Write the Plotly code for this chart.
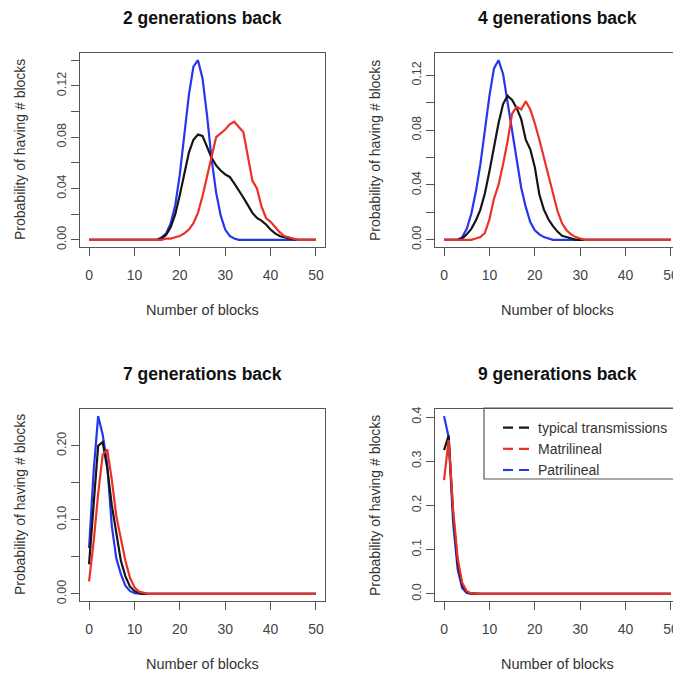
import plotly.graph_objects as go

# ---------------- data ----------------
BLOCKS = list(range(0, 51))

# 2 generations back
G2_TYPICAL = [0]*16 + [0.001, 0.004, 0.010, 0.020, 0.035, 0.052, 0.068, 0.078, 0.082, 0.081,
                       0.073, 0.064, 0.058, 0.054, 0.051, 0.049, 0.044, 0.039, 0.033, 0.027,
                       0.021, 0.017, 0.015, 0.012, 0.008, 0.005, 0.003, 0.002, 0.001, 0.0005] + [0]*5
G2_MATRI = [0]*17 + [0.001, 0.001, 0.002, 0.003, 0.005, 0.008, 0.013, 0.021, 0.034, 0.050,
                     0.065, 0.080, 0.083, 0.086, 0.090, 0.092, 0.088, 0.084, 0.065, 0.046,
                     0.040, 0.026, 0.017, 0.014, 0.010, 0.006, 0.003, 0.002, 0.001] + [0]*5
G2_PATRI = [0]*16 + [0.002, 0.005, 0.013, 0.027, 0.051, 0.082, 0.113, 0.135, 0.140, 0.126,
                     0.097, 0.063, 0.037, 0.019, 0.008, 0.003, 0.001] + [0]*18

# 4 generations back
G4_TYPICAL = [0]*4 + [0.001, 0.004, 0.008, 0.014, 0.022, 0.034, 0.050, 0.068, 0.085, 0.099,
                      0.105, 0.102, 0.096, 0.088, 0.073, 0.066, 0.053, 0.033, 0.022, 0.015,
                      0.010, 0.006, 0.003, 0.002, 0.001] + [0]*22
G4_MATRI = [0]*7 + [0.001, 0.002, 0.005, 0.015, 0.030, 0.040, 0.055, 0.072, 0.092, 0.097,
                    0.095, 0.101, 0.095, 0.085, 0.073, 0.060, 0.046, 0.033, 0.021, 0.012,
                    0.007, 0.004, 0.002, 0.001] + [0]*20
G4_PATRI = [0]*4 + [0.002, 0.008, 0.019, 0.035, 0.055, 0.080, 0.105, 0.125, 0.131, 0.121,
                    0.100, 0.077, 0.058, 0.038, 0.024, 0.013, 0.007, 0.004, 0.002, 0.001] + [0]*27

# 7 generations back
G7_TYPICAL = [0.040, 0.125, 0.200, 0.205, 0.170, 0.120, 0.085, 0.045, 0.024, 0.010,
              0.004, 0.001] + [0]*39
G7_MATRI = [0.017, 0.070, 0.135, 0.188, 0.195, 0.155, 0.105, 0.075, 0.045, 0.022,
            0.009, 0.003, 0.001] + [0]*38
G7_PATRI = [0.062, 0.165, 0.240, 0.215, 0.175, 0.092, 0.048, 0.027, 0.011, 0.004,
            0.001] + [0]*40

# 9 generations back
G9_TYPICAL = [0.325, 0.358, 0.180, 0.070, 0.020, 0.004, 0.001] + [0]*44
G9_MATRI = [0.257, 0.348, 0.190, 0.080, 0.025, 0.006, 0.001] + [0]*44
G9_PATRI = [0.402, 0.355, 0.160, 0.055, 0.013, 0.002, 0.000] + [0]*44

TITLES = ["2 generations back", "4 generations back", "7 generations back", "9 generations back"]
SERIES_NAMES = ["typical transmissions", "Matrilineal", "Patrilineal"]
X_TICKS = [0, 10, 20, 30, 40, 50]
Y_TICKS = [
    ([0, 0.02, 0.04, 0.06, 0.08, 0.10, 0.12, 0.14], ["0.00", "", "0.04", "", "0.08", "", "0.12", ""]),
    ([0, 0.02, 0.04, 0.06, 0.08, 0.10, 0.12], ["0.00", "", "0.04", "", "0.08", "", "0.12"]),
    ([0, 0.05, 0.10, 0.15, 0.20, 0.25], ["0.00", "", "0.10", "", "0.20", ""]),
    ([0, 0.1, 0.2, 0.3, 0.4], ["0.0", "0.1", "0.2", "0.3", "0.4"]),
]
PANEL_DATA = [
    (G2_TYPICAL, G2_MATRI, G2_PATRI),
    (G4_TYPICAL, G4_MATRI, G4_PATRI),
    (G7_TYPICAL, G7_MATRI, G7_PATRI),
    (G9_TYPICAL, G9_MATRI, G9_PATRI),
]

# ---------------- style / layout ----------------
OFF = 8                      # page body margin in the browser
W, H = 681 - OFF, 675 - OFF  # figure size so it fits the window exactly


def px(x):  # window pixel -> paper x
    return (x - OFF) / W


def py(y):  # window pixel -> paper y
    return 1 - (y - OFF) / H


COL_BLACK = "#151515"
COL_RED = "#ec3026"
COL_BLUE = "#2536ec"
FONT = "Liberation Sans, Arial, sans-serif"
# plot boxes in window pixels: (left, right, top, bottom)
BOXES = [(80, 325, 53, 247), (435, 680, 53, 247), (80, 325, 409, 601), (435, 680, 409, 601)]

fig = go.Figure()

for i, (typ, mat, pat) in enumerate(PANEL_DATA):
    xa = "x" if i == 0 else f"x{i+1}"
    ya = "y" if i == 0 else f"y{i+1}"
    for vals, col in [(pat, COL_BLUE), (typ, COL_BLACK), (mat, COL_RED)]:
        fig.add_trace(go.Scatter(x=BLOCKS, y=vals, mode="lines", xaxis=xa, yaxis=ya,
                                 line=dict(color=col, width=2.2), showlegend=False,
                                 hoverinfo="skip"))

# legend entries (dashed, as in the original legend)
for name, col in zip(SERIES_NAMES, [COL_BLACK, COL_RED, COL_BLUE]):
    fig.add_trace(go.Scatter(x=[None], y=[None], mode="lines", name=name, xaxis="x4", yaxis="y4",
                             line=dict(color=col, width=2.2, dash="10px,6px"), showlegend=True))

axis_common = dict(showline=True, mirror=True, linecolor="#555", linewidth=1.2,
                   ticks="outside", ticklen=8, tickcolor="#555", tickwidth=1.2,
                   showgrid=False, zeroline=False, automargin=False)

annotations = []
for i, (x0, x1, y0, y1) in enumerate(BOXES):
    sfx = "" if i == 0 else str(i + 1)
    ymax = max(max(s) for s in PANEL_DATA[i])
    tv, tt = Y_TICKS[i]
    fig.layout["xaxis" + sfx] = dict(domain=[px(x0), min(px(x1), 1)], anchor="y" + sfx,
                                     range=[-2, 52], tickvals=X_TICKS,
                                     ticklabelstandoff=7,
                                     tickfont=dict(family=FONT, size=14, color="#444"),
                                     **axis_common)
    fig.layout["yaxis" + sfx] = dict(domain=[py(y1), py(y0)], anchor="x" + sfx,
                                     range=[-0.04 * ymax, 1.04 * ymax], tickvals=tv, ticktext=tt,
                                     tickangle=-90,
                                     tickfont=dict(family=FONT, size=12.5, color="#444"),
                                     **axis_common)
    cx = (x0 + x1) / 2
    annotations.append(dict(text=f"<b>{TITLES[i]}</b>", x=px(cx), y=py(y0 - 35),
                            xref="paper", yref="paper", showarrow=False,
                            xanchor="center", yanchor="middle",
                            font=dict(family=FONT, size=17.5, color="#111")))
    annotations.append(dict(text="Number of blocks", x=px(cx), y=py(y1 + 63),
                            xref="paper", yref="paper", showarrow=False,
                            xanchor="center", yanchor="middle",
                            font=dict(family=FONT, size=14.5, color="#333")))
    annotations.append(dict(text="Probability of having # blocks", x=px(x0 - 60),
                            y=py((y0 + y1) / 2), xref="paper", yref="paper",
                            showarrow=False, textangle=-90,
                            xanchor="center", yanchor="middle",
                            font=dict(family=FONT, size=14, color="#333")))

fig.update_layout(
    width=W, height=H, margin=dict(l=0, r=0, t=0, b=0, autoexpand=False),
    paper_bgcolor="white", plot_bgcolor="white",
    annotations=annotations,
    showlegend=True,
    legend=dict(x=px(498), y=py(412), xanchor="left", yanchor="top",
                bgcolor="rgba(0,0,0,0)", borderwidth=0, tracegroupgap=0,
                font=dict(family=FONT, size=14, color="#333")),
    shapes=[dict(type="rect", xref="paper", yref="paper", x0=px(484), x1=px(690),
                 y0=py(479), y1=py(408), line=dict(color="#555", width=1.2))],
)

fig.write_html("out.html")
